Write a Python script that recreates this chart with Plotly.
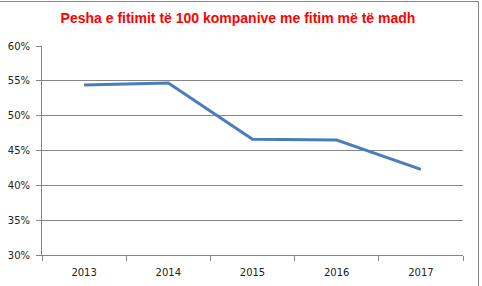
import plotly.graph_objects as go

years = ["2013", "2014", "2015", "2016", "2017"]
shares = [0.544, 0.547, 0.466, 0.465, 0.423]
title_text = "Pesha e fitimit të 100 kompanive me fitim më të madh"

W, H = 482, 286
L, R, T, B = 42, 19, 46, 31
pw, ph = W - L - R, H - T - B
grid = "#868686"

fig = go.Figure()
fig.add_trace(go.Scatter(
    x=years, y=shares, mode="lines",
    line=dict(color="#4A7EBB", width=3),
    hoverinfo="skip", showlegend=False,
))

def px_x(x):
    return (x - L) / pw

def px_y(y):
    return (H - B - y) / ph

fig.update_layout(
    width=W, height=H,
    margin=dict(l=L, r=R, t=T, b=B),
    paper_bgcolor="white", plot_bgcolor="white",
    title=dict(text=title_text, x=238 / W, xanchor="center",
               y=1 - 18 / H, yanchor="middle", yref="container",
               font=dict(family="Liberation Sans, Arial", size=14, color="#FF0000", weight="bold")),
    xaxis=dict(
        type="category", range=[-0.5, 4.5], showgrid=False, automargin=False,
        showline=True, linecolor=grid, linewidth=1,
        ticks="outside", tickson="boundaries", ticklen=5, tickcolor=grid,
        ticklabelstandoff=8,
        tickfont=dict(family="DejaVu Sans", size=10, color="#222"),
    ),
    yaxis=dict(
        range=[0.30, 0.60], dtick=0.05, tickformat=".0%", automargin=False,
        showgrid=True, gridcolor=grid, gridwidth=1,
        showline=True, linecolor=grid, linewidth=1,
        ticks="outside", ticklen=5, tickcolor=grid,
        ticklabelstandoff=4,
        tickfont=dict(family="DejaVu Sans", size=10, color="#222"),
        zeroline=False,
    ),
    shapes=[
        dict(type="line", xref="paper", yref="paper",
             x0=px_x(0), x1=px_x(478.5), y0=px_y(1.5), y1=px_y(1.5),
             line=dict(color=grid, width=1)),
        dict(type="line", xref="paper", yref="paper",
             x0=px_x(478.5), x1=px_x(478.5), y0=px_y(1.5), y1=px_y(286),
             line=dict(color=grid, width=1)),
    ],
)

fig.write_html("out.html")
